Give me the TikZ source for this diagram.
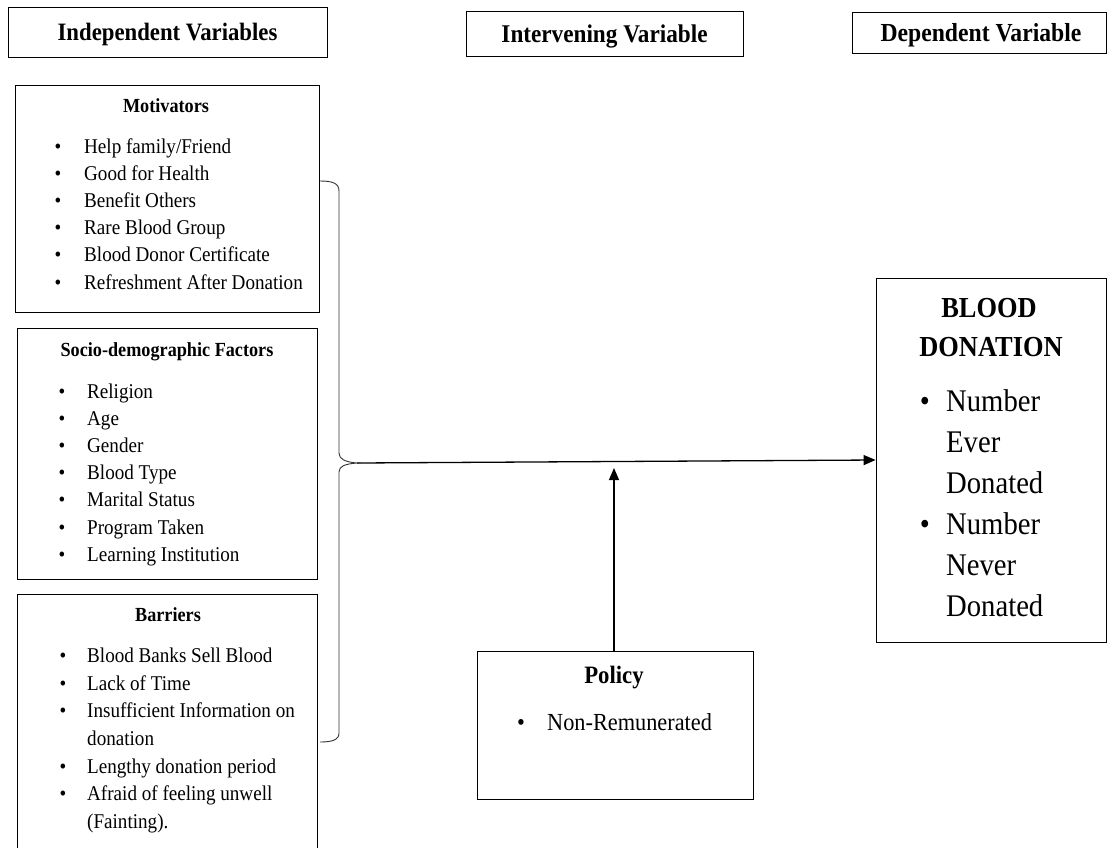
\documentclass[tikz,border=0pt]{standalone}
\usepackage{fontspec}
\setmainfont{Liberation Serif}[FakeStretch=0.91]
\usetikzlibrary{arrows.meta}
\begin{document}
\begin{tikzpicture}[x=1pt,y=-1pt,
  box/.style={draw=black, line width=0.8pt, inner sep=0pt},
  it/.style={anchor=base west, inner sep=0pt, font=\fontsize{21}{25}\selectfont},
  bul/.style={anchor=base, inner sep=0pt, font=\fontsize{21}{25}\selectfont},
  ttl/.style={anchor=base, inner sep=0pt, font=\fontsize{20}{24}\selectfont\bfseries},
  hdr/.style={anchor=base, inner sep=0pt, font=\bfseries},
  bdit/.style={anchor=base west, inner sep=0pt, font=\fontsize{31.5}{38}\selectfont},
  bdbul/.style={anchor=base, inner sep=0pt, font=\fontsize{31.5}{38}\selectfont},
  arr/.style={-{Triangle[length=12pt,width=10pt]}, line width=1.3pt}]
\clip (0,0) rectangle (1114,847);
\fill[white] (0,0) rectangle (1114,847);

% header boxes
\node[box, minimum width=319pt, minimum height=50pt] (hind) at (167.5,32) {};
\node[box, minimum width=277pt, minimum height=45pt] (hint) at (604.5,33.5) {};
\node[box, minimum width=254pt, minimum height=41pt] (hdep) at (979,32.5) {};
\node[hdr, font=\fontsize{25}{29}\selectfont\bfseries] (tind) at (167.5,40.5) {Independent Variables};
\node[hdr, font=\fontsize{25.5}{30}\selectfont\bfseries] (tint) at (604.5,42) {Intervening Variable};
\node[hdr, font=\fontsize{26}{31}\selectfont\bfseries] (tdep) at (981,41.5) {Dependent Variable};

% left boxes
\node[box, minimum width=304pt, minimum height=227pt] (mot) at (167,198.5) {};
\node[box, minimum width=300pt, minimum height=251pt] (soc) at (167,453.5) {};
\node[box, minimum width=300pt, minimum height=266pt] (bar) at (167,727) {};

% Motivators
\node[ttl] (motT) at (166,112) {Motivators};
\foreach \t [count=\i] in {{Help family/Friend},{Good for Health},{Benefit Others},{Rare Blood Group},{Blood Donor Certificate},{Refreshment After Donation}}{
  \node[bul] (mb\i) at (58,{153+27.2*(\i-1)}) {•};
  \node[it] (m\i) at (84,{153+27.2*(\i-1)}) {\t};
}

% Socio-demographic
\node[ttl] (socT) at (167,356) {Socio-demographic Factors};
\foreach \t [count=\i] in {Religion,Age,Gender,{Blood Type},{Marital Status},{Program Taken},{Learning Institution}}{
  \node[bul] (sb\i) at (62,{398+27.2*(\i-1)}) {•};
  \node[it] (s\i) at (87,{398+27.2*(\i-1)}) {\t};
}

% Barriers
\node[ttl] (barT) at (168,621) {Barriers};
\node[bul] (bb1) at (63,662) {•};
\node[it] (b1) at (87,662) {Blood Banks Sell Blood};
\node[bul] (bb2) at (63,690) {•};
\node[it] (b2) at (87,690) {Lack of Time};
\node[bul] (bb3) at (63,717) {•};
\node[it] (b3) at (87,717) {Insufficient Information on};
\node[it] (b3b) at (87,745) {donation};
\node[bul] (bb4) at (63,773) {•};
\node[it] (b4) at (87,773) {Lengthy donation period};
\node[bul] (bb5) at (63,800) {•};
\node[it] (b5) at (87,800) {Afraid of feeling unwell};
\node[it] (b5b) at (87,828) {(Fainting).};

% brace
\draw[line width=0.9pt, black!80]
  (320,181) .. controls (332,181) and (339,183) .. (339,191)
  -- (339,453) .. controls (339,459) and (345,462) .. (357,463)
  .. controls (345,464) and (339,466) .. (339,472)
  -- (339,733) .. controls (339,740) and (332,742) .. (320,742);
\coordinate (tip) at (357,463);

% Blood donation box
\node[box, minimum width=230pt, minimum height=364pt] (bd) at (991,460) {};
\node[hdr, font=\fontsize{29}{34}\selectfont\bfseries] (bdT1) at (989,317) {BLOOD};
\node[hdr, font=\fontsize{29}{34}\selectfont\bfseries] (bdT2) at (991,356) {DONATION};
\node[bdbul] (db1) at (925,411) {•};
\node[bdit] (d1) at (946,411) {Number};
\node[bdit] (d2) at (946,452) {Ever};
\node[bdit] (d3) at (946,493) {Donated};
\node[bdbul] (db2) at (925,534) {•};
\node[bdit] (d4) at (946,534) {Number};
\node[bdit] (d5) at (946,575) {Never};
\node[bdit] (d6) at (946,616) {Donated};

% Policy box
\node[box, minimum width=276pt, minimum height=148pt] (pol) at (615,725) {};
\node[hdr, font=\fontsize{25}{30}\selectfont\bfseries] (polT) at (614,683) {Policy};
\node[anchor=base, inner sep=0pt, font=\fontsize{24.5}{29}\selectfont] (pb1) at (521,730) {•};
\node[anchor=base west, inner sep=0pt, font=\fontsize{24.5}{29}\selectfont] (p1) at (547,730) {Non-Remunerated};

% arrows
\coordinate (pt) at (614,468);
\draw[arr] (tip) -- (bd.west);
\draw[arr] (pol.north -| pt) -- (pt);
\end{tikzpicture}
\end{document}
